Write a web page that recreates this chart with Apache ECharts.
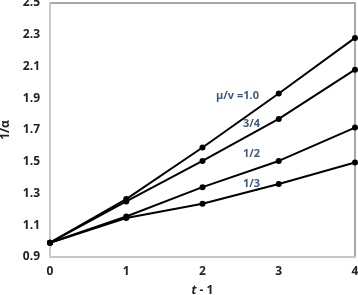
<!DOCTYPE html>
<html><head><meta charset="utf-8">
<script src="https://cdn.jsdelivr.net/npm/echarts@6/dist/echarts.min.js"></script>
<style>html,body{margin:0;padding:0;background:#fff}#c{width:358px;height:295px}</style>
</head><body><div id="c"></div>
<script>
const categories = [0, 1, 2, 3, 4];
const s10 = [0.99, 1.265, 1.59, 1.93, 2.28];
const s34 = [0.99, 1.25, 1.505, 1.77, 2.08];
const s12 = [0.99, 1.155, 1.34, 1.505, 1.715];
const s13 = [0.99, 1.145, 1.235, 1.36, 1.495];
const seriesNames = ['μ/v =1.0', '3/4', '1/2', '1/3'];
const yTicks = [0.9, 1.1, 1.3, 1.5, 1.7, 1.9, 2.1, 2.3, 2.5];

const chart = echarts.init(document.getElementById('c'));
const mk = (name, d) => ({
  name, type: 'line', data: d.map((v, i) => [categories[i], v]),
  symbol: 'circle', symbolSize: 6, itemStyle: {color: '#000'},
  lineStyle: {color: '#000', width: 2}, animation: false
});
const lblFont = {fontFamily: 'Open Sans', fontWeight: 'bold', fontSize: 11, fill: '#3f5a85'};
chart.setOption({
  animation: false,
  grid: {left: 50, right: 3, top: 3, bottom: 38, show: true, borderColor: '#8a8a8a', borderWidth: 1.5,
    containLabel: false, outerBoundsMode: 'none'},
  xAxis: {type: 'value', min: 0, max: 4, interval: 1,
    axisLine: {show: true, lineStyle: {color: '#d4d4d4', width: 1.5}}, axisTick: {show: false},
    splitLine: {show: false},
    axisLabel: {color: '#222', fontWeight: 'bold', fontSize: 12, fontFamily: 'Open Sans', margin: 9},
    name: '{i|t} - 1', nameLocation: 'middle', nameGap: 28,
    nameTextStyle: {color: '#222', fontWeight: 'bold', fontSize: 12, fontFamily: 'Open Sans',
      rich: {i: {fontStyle: 'italic', fontWeight: 'bold', fontSize: 12, fontFamily: 'Open Sans', color: '#222'}}}
  },
  yAxis: {type: 'value', min: 0.9, max: 2.5, interval: 0.2,
    axisLine: {show: true, lineStyle: {color: '#d4d4d4', width: 1.5}}, axisTick: {show: false},
    splitLine: {show: false},
    axisLabel: {color: '#222', fontWeight: 'bold', fontSize: 12, fontFamily: 'Open Sans', margin: 10,
      formatter: v => v.toFixed(1)},
    name: '1/α', nameLocation: 'middle', nameGap: 38,
    nameTextStyle: {color: '#222', fontWeight: 'bold', fontSize: 12, fontFamily: 'Open Sans'}
  },
  series: [mk(seriesNames[0], s10), mk(seriesNames[1], s34), mk(seriesNames[2], s12), mk(seriesNames[3], s13)],
  graphic: [
    {type: 'text', left: 216, top: 90, style: Object.assign({text: seriesNames[0]}, lblFont)},
    {type: 'text', left: 243, top: 118, style: Object.assign({text: seriesNames[1]}, lblFont)},
    {type: 'text', left: 243, top: 148, style: Object.assign({text: seriesNames[2]}, lblFont)},
    {type: 'text', left: 243, top: 178, style: Object.assign({text: seriesNames[3]}, lblFont)}
  ]
});
</script></body></html>
